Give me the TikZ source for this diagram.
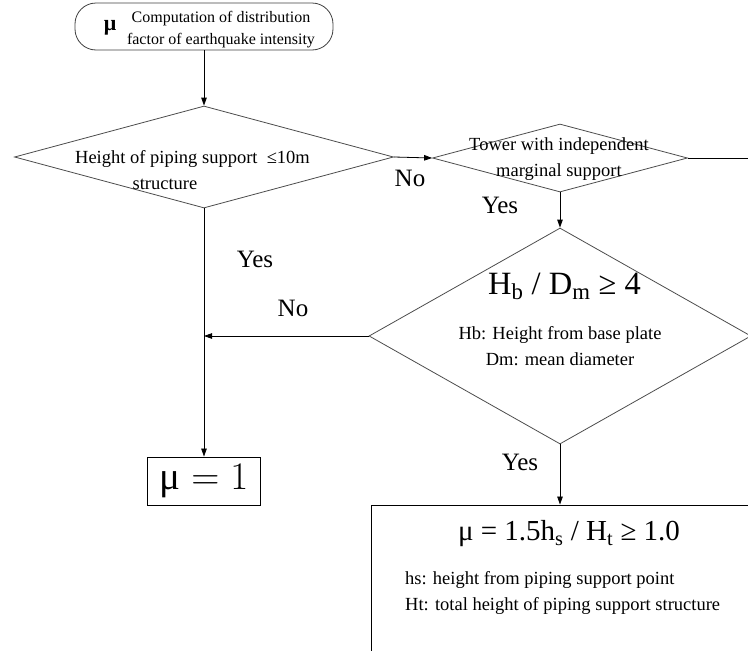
\documentclass[tikz,border=0pt]{standalone}
\usepackage{fix-cm}
\usepackage{fontspec}
\setmainfont{Liberation Serif}
\usetikzlibrary{shapes.geometric, arrows.meta, positioning}
\tikzset{
  % start of the flow
  startbox/.style={draw=black!75, line width=0.8pt, rounded corners=21pt,
    minimum width=258pt, minimum height=47pt, inner sep=0pt},
  % decisions
  decision/.style={diamond, draw=black!70, line width=0.8pt, inner sep=0pt},
  % results
  resbox/.style={draw=black, line width=0.9pt, inner sep=0pt},
  % connectors
  flow/.style={-{Triangle[length=8pt, width=5.5pt]}, line width=0.8pt},
  % texts
  txt/.style={font=\fontsize{18.5}{26}\selectfont, align=center, inner sep=0pt},
  smalltxt/.style={font=\fontsize{16}{22}\selectfont, align=center, inner sep=0pt},
  answer/.style={font=\fontsize{25}{30}\selectfont, inner sep=0pt},
  formula/.style={font=\fontsize{32.5}{36}\selectfont, inner sep=0pt},
}

\begin{document}
\begin{tikzpicture}[x=1pt, y=-1pt]
  \useasboundingbox (0,0) rectangle (748,651);
  \clip (0,0) rectangle (748,651);
  % blocks
  \node[startbox] (start) at (204,26.5) {};
  \node[font=\fontsize{22}{24}\selectfont\bfseries, inner sep=0pt] (startmu) at (110,28) {μ};
  \node[smalltxt] (starttxt) at (221,30) {Computation of distribution\\factor of earthquake intensity};
  \node[decision, minimum width=379pt, minimum height=102pt] (height) at (204,157) {};
  \node[txt] (heighttxt) at (192.5,159) {Height of piping support \ ≤10m};
  \node[txt] (heightstr) at (165,184) {structure};
  \node[decision, minimum width=255pt, minimum height=68pt] (tower) at (560,158) {};
  \node[txt] (towertxt) at (559,159) {Tower with independent\\marginal support};
  \node[decision, minimum width=382pt, minimum height=216pt] (ratio) at (560,336) {};
  \node[formula] (ratiof) at (564.5,286) {H\textsubscript{b} / D\textsubscript{m} ≥ 4};
  \node[txt] (ratiotxt) at (560,346) {Hb: Height from base plate\\Dm: mean diameter};
  \node[resbox, minimum width=113pt, minimum height=48pt] (muone) at (204,481)
    {\fontsize{39}{42}\selectfont μ${}=1$};
  \node[resbox, minimum width=389pt, minimum height=195pt] (result) at (565.5,602.5) {};
  \node[formula, font=\fontsize{29}{34}\selectfont] (resultf) at (569,534)
    {μ = 1.5h\textsubscript{s} / H\textsubscript{t} ≥ 1.0};
  \node[txt, align=left, anchor=west] (resulttxt) at (405,593)
    {hs: height from piping support point\\Ht: total height of piping support structure};
  % answers
  \node[answer] (no1) at (410,178) {No};
  \node[answer] (yes1) at (500,205) {Yes};
  \node[answer] (yes2) at (255,259) {Yes};
  \node[answer] (no2) at (293,308) {No};
  \node[answer] (yes3) at (520,462) {Yes};
  % connectors
  \coordinate (towerend) at (760,158);
  \draw[flow] (start.south) -- (height.north);
  \draw[flow] (height.east) -- (tower.west);
  \draw[line width=0.8pt] (tower.east) -- (towerend);
  \draw[flow] (tower.south) -- (ratio.north);
  \draw[flow] (ratio.west) -- (ratio.west -| height.south);
  \draw[flow] (height.south) -- (muone.north);
  \draw[flow] (ratio.south) -- (ratio.south |- result.north);
\end{tikzpicture}
\end{document}
